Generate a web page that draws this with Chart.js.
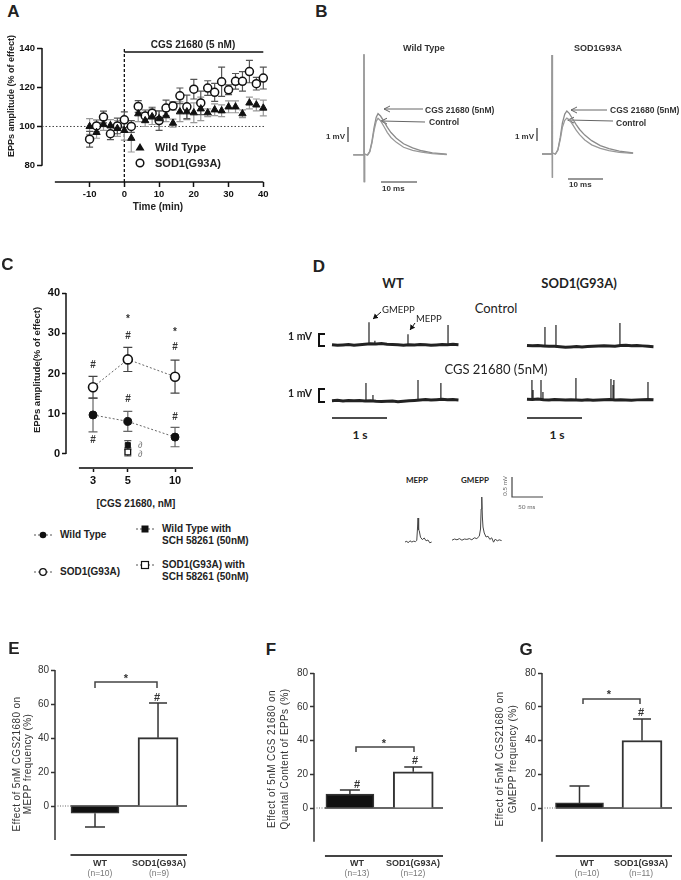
<!DOCTYPE html>
<html>
<head>
<meta charset="utf-8">
<script src="https://cdn.jsdelivr.net/npm/chart.js@4/dist/chart.umd.min.js"></script>
<style>
body { margin: 0; background: #fff; }
#fig { position: relative; width: 681px; height: 880px; overflow: hidden; background: #fff; }
#fig canvas { position: absolute; }
#fig svg { position: absolute; left: 0; top: 0; }
.t { position: absolute; white-space: nowrap; line-height: 1; font-family: "Liberation Sans", Arial, sans-serif; font-weight: bold; color: #222; }
</style>
</head>
<body>
<div id="fig">
<svg width="681" height="880">
  <defs>
    <marker id="ahGray" markerWidth="8" markerHeight="8" refX="6" refY="3.5" orient="auto" markerUnits="userSpaceOnUse">
      <path d="M0,0.5 L6,3.5 L0,6.5" fill="none" stroke="#666" stroke-width="1"/>
    </marker>
    <marker id="ahBlack" markerWidth="8" markerHeight="8" refX="5" refY="3" orient="auto" markerUnits="userSpaceOnUse">
      <path d="M0,0 L5,3 L0,6 Z" fill="#111"/>
    </marker>
  </defs>
  <!-- A legend -->
  <polygon points="140,143 144.5,150.5 135.5,150.5" fill="#111"/>
  <circle cx="140" cy="163" r="3.8" fill="#fff" stroke="#111" stroke-width="1.5"/>
  <!-- B arrows and scale bars -->
  <g stroke="#666" stroke-width="1">
    <line x1="423" y1="109" x2="384" y2="109" marker-end="url(#ahGray)"/>
    <line x1="425" y1="122" x2="381" y2="121" marker-end="url(#ahGray)"/>
    <line x1="607" y1="110" x2="571" y2="110" marker-end="url(#ahGray)"/>
    <line x1="613" y1="121" x2="568" y2="120" marker-end="url(#ahGray)"/>
  </g>
  <g stroke="#333" stroke-width="1.2">
    <line x1="348" y1="127" x2="348" y2="142"/>
    <line x1="381" y1="182" x2="417" y2="182"/>
    <line x1="537" y1="128" x2="537" y2="141"/>
    <line x1="568" y1="179" x2="603" y2="179"/>
  </g>
  <!-- C legend -->
  <g stroke="#555" stroke-width="1" stroke-dasharray="2,2">
    <line x1="34" y1="535" x2="52" y2="535"/>
    <line x1="34" y1="572" x2="52" y2="572"/>
    <line x1="136" y1="529" x2="154" y2="529"/>
    <line x1="136" y1="565" x2="154" y2="565"/>
  </g>
  <circle cx="43" cy="535" r="3.3" fill="#111"/>
  <circle cx="43" cy="572" r="3.3" fill="#fff" stroke="#111" stroke-width="1.3"/>
  <rect x="141.5" y="525.5" width="7" height="7" fill="#111"/>
  <rect x="141.5" y="561.5" width="7" height="7" fill="#fff" stroke="#111" stroke-width="1.2"/>
  <!-- D brackets, arrows, bars -->
  <g fill="none" stroke="#111" stroke-width="2">
    <path d="M325,334 H319 V346 H325"/>
    <path d="M325,389 H319 V402 H325"/>
  </g>
  <g stroke="#111" stroke-width="1">
    <line x1="381" y1="312" x2="373" y2="319" marker-end="url(#ahBlack)"/>
    <line x1="415" y1="323" x2="410" y2="330" marker-end="url(#ahBlack)"/>
  </g>
  <g stroke="#111" stroke-width="1.5">
    <line x1="332" y1="418" x2="387" y2="418"/>
    <line x1="527" y1="418" x2="582" y2="418"/>
  </g>
  <path d="M512,477 V497 H543" fill="none" stroke="#444" stroke-width="1.2"/>
  <!-- E/F/G significance brackets -->
  <g fill="none" stroke="#444" stroke-width="1.5">
    <path d="M95,688 V682 H157 V688"/>
    <path d="M356,752 V747 H414 V752"/>
    <path d="M583,704 V699 H640 V704"/>
  </g>
</svg>
</div>
<script>
// ---- Panel A: EPP amplitude over time
const timeMin = [-10, -8, -6, -4, -2, 0, 2, 4, 6, 8, 10, 12, 14, 16, 18, 20, 22, 24, 26, 28, 30, 32, 34, 36, 38, 40];
const wtAmp = [100, 97, 101, 100.5, 99, 98, 94, 106.5, 103, 105, 104, 105.5, 101.7, 107.5, 107.5, 107, 109, 107, 108.5, 108, 110, 110, 106.5, 112, 111, 109.4];
const wtAmpErr = [4, 3, 3, 3, 4, 5, 7, 4, 3, 4, 4, 3, 2, 5, 4, 5, 6, 2, 3, 3, 3, 3, 2, 3, 3, 4];
const sodAmp = [93.5, 100.3, 104.8, 96.3, 100.3, 103.4, 100, 110.2, 105.4, 106.8, 103, 109.4, 110.5, 115.6, 110, 119, 112, 119.6, 117.4, 122.8, 118.7, 123, 123, 128, 121.8, 124.7];
const sodAmpErr = [4, 3, 3, 3, 4, 4, 3, 3, 3, 3, 5, 4, 2, 4, 6, 5, 6, 3.7, 4.6, 7.5, 2.5, 4, 5, 5.7, 3.2, 5.6];
const timeTicks = [-10, 0, 10, 20, 30, 40];
const ampTicks = [80, 100, 120, 140];
const seriesNames = ['Wild Type', 'SOD1(G93A)'];

// ---- Panel B: evoked EPP traces (ms, mV)
const wtTraceMs = [-3, -0.01, 0, 0.08, 0.16, 0.3, 1, 1.6, 2.2, 2.8, 3.4, 3.9, 4.6, 5.5, 6.5, 7.5, 9, 11, 13.5, 16, 19, 23];
const wtTraceCgs = [0, 0, 7.2, -1.9, 0.1, 0.05, 0, 0.25, 0.95, 1.95, 2.7, 2.95, 2.78, 2.42, 1.97, 1.6, 1.2, 0.8, 0.5, 0.3, 0.15, 0.05];
const wtTraceCtrl = [0, 0, 7.2, -1.9, 0.1, 0.05, 0, 0.22, 0.85, 1.75, 2.4, 2.62, 2.45, 2.05, 1.6, 1.25, 0.9, 0.55, 0.33, 0.2, 0.1, 0.03];
const sodTraceMs = [-2.9, -0.01, 0, 0.08, 0.16, 0.3, 1, 1.7, 2.4, 3.0, 3.7, 4.3, 5.0, 6.0, 7.0, 8.0, 9.5, 11.5, 14, 16.5, 19.5, 23.5];
const sodTraceCgs = [0, 0, 7.07, -1.7, 0.1, 0.05, 0, 0.3, 1.2, 2.2, 2.85, 3.07, 2.9, 2.5, 2.1, 1.75, 1.35, 0.95, 0.6, 0.38, 0.2, 0.07];
const sodTraceCtrl = [0, 0, 7.07, -1.7, 0.1, 0.05, 0, 0.28, 1.05, 1.9, 2.4, 2.57, 2.45, 2.1, 1.7, 1.38, 1.0, 0.65, 0.4, 0.24, 0.12, 0.04];

// ---- Panel C: dose response
const doseNM = [3, 5, 10];
const doseTicks = [3, 5, 10];
const wtDose = [9.7, 8.1, 4.2];
const wtDoseErr = [4.2, 2.5, 2.4];
const sodDose = [16.6, 23.5, 19.2];
const sodDoseErr = [2.7, 3.0, 4.1];
const schDose = [5];
const wtSch = [2.2];
const wtSchErr = [1.1];
const sodSch = [0.5];
const sodSchErr = [1.0];
const effTicks = [0, 10, 20, 30, 40];

// ---- Panel D: spontaneous activity traces (s, mV)
const dTime = [0, 0.1, 0.2, 0.3, 0.4, 0.5, 0.6, 0.7, 0.8, 0.9, 1.0, 1.1, 1.2, 1.3, 1.4, 1.5, 1.6, 1.7, 1.8, 1.9, 2.0, 2.1, 2.2, 2.3];
const wtCtrlBase = [0.02, -0.03, 0.01, 0.04, -0.02, 0.03, 0.06, 0.1, 0.08, 0.12, 0.07, 0.05, 0.02, -0.01, 0.03, 0, 0.04, 0.02, -0.02, 0.01, 0.05, 0.03, 0.06, 0.02];
const wtCtrlSpikeT = [0.673, 0.78, 1.382, 2.11];
const wtCtrlSpikeV = [1.9, 0.35, 0.9, 1.67];
const sodCtrlBase = [0.05, 0.02, 0.04, 0, -0.03, -0.02, -0.06, -0.1, -0.08, -0.05, -0.09, -0.04, -0.02, 0.01, 0.03, 0, -0.02, 0.04, 0.06, 0.02, 0.05, 0.01, -0.03, -0.06];
const sodCtrlSpikeT = [0.327, 0.527, 1.69];
const sodCtrlSpikeV = [1.58, 1.75, 1.92];
const wtCgsBase = [0.03, 0.06, 0.01, 0.04, 0.02, 0.05, 0, 0.03, -0.02, -0.05, -0.03, -0.01, -0.06, -0.02, 0.02, 0.05, 0.09, 0.12, 0.08, 0.11, 0.15, 0.1, 0.13, 0.09];
const wtCgsSpikeT = [0.618, 0.745, 1.564, 1.98];
const wtCgsSpikeV = [1.5, 0.5, 1.75, 1.5];
const sodCgsBase = [0.06, 0.04, 0.08, 0.03, 0.01, 0.05, 0.02, -0.01, 0.03, 0, -0.02, 0.01, -0.03, 0, 0.02, 0.04, 0.01, 0.03, 0, -0.02, 0.01, 0.03, 0.05, 0.02];
const sodCgsSpikeT = [0.09, 0.11, 0.255, 0.29, 0.89, 1.527, 1.564, 1.58, 2.2];
const sodCgsSpikeV = [1.67, 0.83, 1.67, 0.67, 1.83, 1.75, 1.25, 1.67, 1.5];
const meppMs = [0, 3, 5, 8, 11, 14, 17, 19, 20, 21, 22, 23, 25, 28, 31, 34, 37, 40, 43];
const meppMv = [0, 0.02, -0.02, 0.03, 0, 0.02, 0.01, 0.04, 0.3, 0.6, 0.3, 0.28, 0.12, 0.06, 0.1, 0.03, 0.05, -0.02, 0];
const gmeppMs = [0, 4, 8, 12, 16, 20, 24, 28, 32, 36, 40, 44, 46, 47, 48, 49, 50, 52, 55, 58, 61, 64, 67, 70, 73, 76, 80];
const gmeppMv = [0.02, 0.05, 0.03, 0.06, 0.02, 0.05, 0.04, 0.06, 0.03, 0.08, 0.06, 0.12, 0.3, 0.8, 1.1, 0.6, 0.35, 0.2, 0.1, 0.12, 0.04, 0.08, -0.03, 0.05, 0, 0.03, 0.01];

// ---- Panels E, F, G: bar summaries
const groups = ['WT', 'SOD1(G93A)'];
const barTicks = [0, 20, 40, 60, 80];
const meppFreq = [-4.2, 40.2];
const meppFreqErr = [8.2, 20.4];
const meppN = ['(n=10)', '(n=9)'];
const quantal = [8.3, 21.5];
const quantalErr = [2.4, 2.8];
const quantalN = ['(n=13)', '(n=12)'];
const gmeppFreq = [3.0, 40.0];
const gmeppFreqErr = [10, 12.7];
const gmeppN = ['(n=10)', '(n=11)'];

const fig = document.getElementById('fig');
const FONT = 'Liberation Sans';

function txt(s, x, y, o = {}) {
    const d = document.createElement('div');
    d.className = 't';
    d.textContent = s;
    const a = o.a || 'c';
    const tx = a === 'l' ? '0' : a === 'r' ? '-100%' : '-50%';
    d.style.left = x + 'px';
    d.style.top = y + 'px';
    d.style.transform = `translate(${tx},-50%)` + (o.rot ? ` rotate(${o.rot}deg)` : '');
    d.style.fontSize = (o.size || 10) + 'px';
    if (o.w) d.style.fontWeight = o.w;
    if (o.f) d.style.fontFamily = o.f;
    if (o.c) d.style.color = o.c;
    if (o.i) d.style.fontStyle = 'italic';
    if (o.ls) d.style.letterSpacing = o.ls + 'px';
    fig.appendChild(d);
}

function drawErrBars(chart, phase) {
    const ctx = chart.ctx;
    const ys = chart.scales.y;
    chart.data.datasets.forEach((ds, i) => {
        if (!ds.err || (ds.errPhase || 'before') !== phase) return;
        const meta = chart.getDatasetMeta(i);
        ctx.save();
        ctx.strokeStyle = ds.errColor || '#333';
        ctx.lineWidth = ds.errW || 1.2;
        meta.data.forEach((el, j) => {
            const v = ds.data[j].y, e = ds.err[j];
            const ends = ds.errMode === 'away' ? [v, v + (v < 0 ? -e : e)] : [v - e, v + e];
            const p0 = ys.getPixelForValue(ends[0]), p1 = ys.getPixelForValue(ends[1]);
            const c = ds.cap || 4;
            ctx.beginPath();
            ctx.moveTo(el.x, p0); ctx.lineTo(el.x, p1);
            ctx.moveTo(el.x - c, p1); ctx.lineTo(el.x + c, p1);
            if (ds.errMode !== 'away') { ctx.moveTo(el.x - c, p0); ctx.lineTo(el.x + c, p0); }
            ctx.stroke();
        });
        ctx.restore();
    });
}

// axis lines and reference lines, placed in data units through the chart's scales
function gp(lines) {
    return {
        id: 'gp',
        beforeDatasetsDraw(chart) {
            const { ctx, chartArea: a, scales: { x, y } } = chart;
            ctx.save();
            lines.forEach(l => {
                let x0, x1, y0, y1;
                if (l.ax === 'y') { x0 = x1 = a.left; y0 = y.getPixelForValue(l.v[0]); y1 = y.getPixelForValue(l.v[1]); }
                else if (l.ax === 'x') { y0 = y1 = a.bottom; x0 = x.getPixelForValue(l.v[0]); x1 = x.getPixelForValue(l.v[1]); }
                else { x0 = x.getPixelForValue(l.x[0]); x1 = x.getPixelForValue(l.x[1]); y0 = y.getPixelForValue(l.y[0]); y1 = y.getPixelForValue(l.y[1]); }
                ctx.beginPath();
                ctx.setLineDash(l.dash || []);
                ctx.lineWidth = l.w || 1.5;
                ctx.strokeStyle = l.c || '#111';
                ctx.moveTo(x0, y0); ctx.lineTo(x1, y1);
                ctx.stroke();
            });
            ctx.restore();
            drawErrBars(chart, 'before');
        },
        afterDatasetsDraw(chart) { drawErrBars(chart, 'after'); }
    };
}

function mk(box, cfg, lines = []) {
    const pl = box.pl || 0, pt = box.pt || 0, pr = box.pr || 0, pb = box.pb || 0;
    const c = document.createElement('canvas');
    const w = box.r - box.l + pl + pr, h = box.b - box.t + pt + pb;
    c.width = w; c.height = h;
    c.style.left = (box.l - pl) + 'px';
    c.style.top = (box.t - pt) + 'px';
    c.style.width = w + 'px';
    c.style.height = h + 'px';
    fig.appendChild(c);
    const o = cfg.options;
    o.responsive = false;
    o.animation = false;
    o.events = [];
    o.layout = { padding: {
        left: o.scales.y.display === false ? pl : 0,
        top: pt,
        right: pr,
        bottom: o.scales.x.display === false ? pb : 0
    } };
    o.plugins = { legend: { display: false }, tooltip: { enabled: false } };
    cfg.plugins = [gp(lines)];
    return new Chart(c, cfg);
}

function yAxis(min, max, ticks, width, font, color, tl = 5) {
    return {
        type: 'linear', min, max,
        afterBuildTicks: s => { s.ticks = ticks.map(v => ({ value: v })); },
        afterFit: s => { s.width = width; s.paddingTop = 0; s.paddingBottom = 0; },
        grid: { drawOnChartArea: false, tickLength: tl, tickWidth: 1.5, tickColor: color },
        border: { display: false },
        ticks: { padding: 2, color, font }
    };
}

function xAxis(type, min, max, ticks, height, font, color, tl = 5) {
    return {
        type, min, max, offset: false,
        afterBuildTicks: s => { s.ticks = ticks.map(v => ({ value: v })); },
        afterFit: s => { s.height = height; s.paddingLeft = 0; s.paddingRight = 0; },
        grid: { drawOnChartArea: false, tickLength: tl, tickWidth: 1.5, tickColor: color },
        border: { display: false },
        ticks: { padding: 2, color, font, maxRotation: 0, autoSkip: false, callback: v => String(v) }
    };
}

const pts = (xs, ys) => xs.map((x, i) => ({ x, y: ys[i] }));
const spikes = (ts, vs) => ts.flatMap((t, i) => [{ x: t, y: 0 }, { x: t, y: vs[i] }, { x: t, y: null }]);

// ================= Panel A =================
const boldA = { family: FONT, size: 9.5, weight: 'bold' };
mk({ l: 42, t: 48, r: 264, b: 182, pl: 42, pt: 10, pr: 12, pb: 22 }, {
    type: 'scatter',
    data: { datasets: [
        { data: pts(timeMin, wtAmp), pointStyle: 'triangle', pointRadius: 4.2, backgroundColor: '#111', borderColor: '#111', borderWidth: 1,
          err: wtAmpErr, errColor: '#999', cap: 3.5, clip: false },
        { data: pts(timeMin, sodAmp), pointStyle: 'circle', pointRadius: 4, backgroundColor: '#fff', borderColor: '#111', borderWidth: 1.5,
          err: sodAmpErr, errColor: '#555', cap: 3.5, clip: false }
    ] },
    options: { scales: {
        x: xAxis('linear', -23.7, 40.2, timeTicks, 22, boldA, '#111'),
        y: yAxis(71.7, 140, ampTicks, 42, boldA, '#111')
    } }
}, [
    { ax: 'y', v: [80, 140] },
    { ax: 'x', v: [-20, 40] },
    { x: [-23.7, 40.2], y: [100, 100], dash: [1.5, 2], w: 1, c: '#444' },
    { x: [0, 0], y: [71.7, 140], dash: [3, 2], w: 1.3 },
    { x: [0, 40], y: [138, 138], w: 1.5 }
]);
txt('A', 13.5, 11, { size: 17 });
txt('EPPs amplitude (% of effect)', 11, 96, { size: 9, rot: -90 });
txt('Time (min)', 158, 207, { size: 10 });
txt('CGS 21680 (5 nM)', 193, 45, { size: 10 });
txt(seriesNames[0], 155, 147, { a: 'l', size: 11 });
txt(seriesNames[1], 155, 163, { a: 'l', size: 11 });

// ================= Panel B =================
function traceChart(box, xr, yr, datasets) {
    return mk(box, {
        type: 'line',
        data: { datasets },
        options: { scales: {
            x: { type: 'linear', display: false, min: xr[0], max: xr[1] },
            y: { type: 'linear', display: false, min: yr[0], max: yr[1] }
        } }
    });
}
const lineDs = (data, color, width) => ({ data, borderColor: color, borderWidth: width, pointRadius: 0, fill: false, tension: 0, spanGaps: false, clip: false });

traceChart({ l: 348, t: 48, r: 460, b: 188 }, [-4.44, 26.67], [-2.36, 7.64], [
    lineDs(pts(wtTraceMs, wtTraceCtrl), '#999', 1.3),
    lineDs(pts(wtTraceMs, wtTraceCgs), '#8a8a8a', 1.3)
]);
traceChart({ l: 536, t: 48, r: 640, b: 188 }, [-4.64, 25.5], [-2.43, 7.57], [
    lineDs(pts(sodTraceMs, sodTraceCtrl), '#999', 1.3),
    lineDs(pts(sodTraceMs, sodTraceCgs), '#8a8a8a', 1.3)
]);
txt('B', 321.5, 11, { size: 17 });
txt(seriesNames[0], 424, 48, { size: 9, c: '#333' });
txt('SOD1G93A', 598, 48, { size: 9, c: '#333' });
txt('CGS 21680 (5nM)', 425, 110, { a: 'l', size: 8.5, c: '#333' });
txt('Control', 429, 122, { a: 'l', size: 8.5, c: '#333' });
txt('CGS 21680 (5nM)', 610, 110, { a: 'l', size: 8.5, c: '#333' });
txt('Control', 616, 123, { a: 'l', size: 8.5, c: '#333' });
txt('1 mV', 345, 137, { a: 'r', size: 8, c: '#333' });
txt('1 mV', 534, 137, { a: 'r', size: 8, c: '#333' });
txt('10 ms', 382, 189, { a: 'l', size: 8, c: '#333' });
txt('10 ms', 569, 185, { a: 'l', size: 8, c: '#333' });

// ================= Panel C =================
const boldC = { family: FONT, size: 11, weight: 'bold' };
mk({ l: 66, t: 293, r: 193, b: 468, pl: 66, pt: 12, pr: 10, pb: 22 }, {
    type: 'scatter',
    data: { datasets: [
        { data: pts(schDose, wtSch), pointStyle: 'rect', pointRadius: 3.6, backgroundColor: '#111', borderColor: '#111', borderWidth: 1,
          err: wtSchErr, errColor: '#555', cap: 3.5, clip: false },
        { data: pts(schDose, sodSch), pointStyle: 'rect', pointRadius: 4, backgroundColor: '#fff', borderColor: '#111', borderWidth: 1.3,
          err: sodSchErr, errColor: '#555', cap: 3.5, clip: false },
        { data: pts(doseNM, wtDose), showLine: true, borderDash: [2, 2], borderColor: '#666', borderWidth: 1,
          pointStyle: 'circle', pointRadius: 4, pointBackgroundColor: '#111', pointBorderColor: '#111',
          err: wtDoseErr, errColor: '#666', cap: 4.5, clip: false },
        { data: pts(doseNM, sodDose), showLine: true, borderDash: [2, 2], borderColor: '#666', borderWidth: 1,
          pointStyle: 'circle', pointRadius: 4.5, pointBackgroundColor: '#fff', pointBorderColor: '#111', pointBorderWidth: 1.6,
          err: sodDoseErr, errColor: '#444', cap: 4.5, clip: false }
    ] },
    options: { scales: {
        x: xAxis('logarithmic', 2.018, 13.02, doseTicks, 22, boldC, '#111', 4),
        y: yAxis(-3.48, 40, effTicks, 66, boldC, '#111', 4)
    } }
}, [
    { ax: 'y', v: [0, 40] },
    { ax: 'x', v: [2.44, 13.02], w: 2, c: '#444' }
]);
txt('C', 7.5, 264, { size: 17 });
txt('EPPs amplitude(% of effect)', 37, 370, { size: 9.5, rot: -90 });
txt('[CGS 21680, nM]', 136, 504, { size: 10 });
[['#', 93, 365], ['#', 93, 440], ['*', 128, 319], ['#', 128, 336], ['#', 128, 399],
 ['*', 175, 332], ['#', 175, 347], ['#', 175, 417]].forEach(([s, x, y]) => txt(s, x, y, { size: 10, c: '#333' }));
txt('∂', 138, 445, { a: 'l', size: 9, w: 'normal', i: true, c: '#777' });
txt('∂', 138, 454, { a: 'l', size: 9, w: 'normal', i: true, c: '#777' });
txt(seriesNames[0], 60, 535, { a: 'l', size: 10 });
txt(seriesNames[1], 60, 572, { a: 'l', size: 10 });
txt('Wild Type with', 162, 529, { a: 'l', size: 10 });
txt('SCH 58261 (50nM)', 162, 541, { a: 'l', size: 10 });
txt('SOD1(G93A) with', 162, 565, { a: 'l', size: 10 });
txt('SCH 58261 (50nM)', 162, 577, { a: 'l', size: 10 });

// ================= Panel D =================
const dTrace = (base, st, sv) => [lineDs(pts(dTime, base), '#222', 3), lineDs(spikes(st, sv), '#333', 1.3)];
traceChart({ l: 330, t: 316, r: 462, b: 352 }, [-0.036, 2.364], [-0.583, 2.417], dTrace(wtCtrlBase, wtCtrlSpikeT, wtCtrlSpikeV));
traceChart({ l: 525, t: 316, r: 657, b: 352 }, [-0.036, 2.364], [-0.5, 2.5], dTrace(sodCtrlBase, sodCtrlSpikeT, sodCtrlSpikeV));
traceChart({ l: 330, t: 372, r: 462, b: 408 }, [-0.036, 2.364], [-0.583, 2.417], dTrace(wtCgsBase, wtCgsSpikeT, wtCgsSpikeV));
traceChart({ l: 525, t: 372, r: 657, b: 408 }, [-0.036, 2.364], [-0.667, 2.333], dTrace(sodCgsBase, sodCgsSpikeT, sodCgsSpikeV));
traceChart({ l: 400, t: 505, r: 440, b: 550 }, [-8.06, 56.45], [-0.2, 0.925], [lineDs(pts(meppMs, meppMv), '#444', 1)]);
traceChart({ l: 448, t: 490, r: 508, b: 550 }, [-6.45, 90.3], [-0.225, 1.275], [lineDs(pts(gmeppMs, gmeppMv), '#444', 1)]);
const LATO = 'Lato';
txt('D', 319, 266, { size: 17 });
txt('WT', 393, 283, { size: 13, f: LATO });
txt('SOD1(G93A)', 579, 283, { size: 13, f: LATO });
txt('Control', 496, 308, { size: 13, w: 'normal', f: LATO });
txt('CGS 21680 (5nM)', 496, 369, { size: 13, w: 'normal', f: LATO });
txt('GMEPP', 382, 310, { a: 'l', size: 9.5, w: 'normal', f: LATO });
txt('MEPP', 416, 319, { a: 'l', size: 9.5, w: 'normal', f: LATO });
txt('1 mV', 312, 336, { a: 'r', size: 10.5, f: LATO });
txt('1 mV', 312, 393, { a: 'r', size: 10.5, f: LATO });
txt('1 s', 360, 435, { size: 12, f: LATO });
txt('1 s', 557, 435, { size: 12, f: LATO });
txt('MEPP', 417, 480, { size: 8, f: LATO });
txt('GMEPP', 475, 480, { size: 8, f: LATO });
txt('0.5 mV', 505, 486, { size: 6.5, w: 'normal', rot: -90, c: '#666', f: LATO });
txt('50 ms', 518, 507, { a: 'l', size: 6.5, w: 'normal', c: '#666', f: LATO });

// ================= Panels E, F, G =================
const tickEFG = { family: FONT, size: 10 };
function barPanel(area, xr, xStart, yMin, vals, errs) {
    mk({ l: area[0], t: area[1], r: area[2], b: area[3], pl: area[0], pt: 10, pr: 4, pb: 4 }, {
        type: 'bar',
        data: { datasets: [
            { data: [{ x: 1, y: vals[0] }], backgroundColor: '#111', borderColor: '#333', borderWidth: 1.5, barThickness: 48, grouped: false,
              err: [errs[0]], errMode: 'away', errPhase: 'after', errColor: '#333', errW: 1.5, cap: 10 },
            { data: [{ x: 2, y: vals[1] }], backgroundColor: '#fff', borderColor: '#333', borderWidth: 2, barThickness: 40, grouped: false,
              err: [errs[1]], errMode: 'away', errPhase: 'after', errColor: '#333', errW: 1.5, cap: 9 }
        ] },
        options: { scales: {
            x: { type: 'linear', display: false, min: xr[0], max: xr[1], offset: false },
            y: yAxis(yMin, 80, barTicks, area[0], tickEFG, '#333', 4)
        } }
    }, [
        { ax: 'y', v: [-20, 80], c: '#333' },
        { ax: 'x', v: [xStart, xr[1]], w: 2.2, c: '#444' },
        { x: [xr[0], xStart], y: [0, 0], dash: [1, 1.5], w: 1, c: '#666' },
        { x: [xStart, xr[1]], y: [0, 0], w: 1.5, c: '#333' }
    ]);
}
barPanel([55, 670, 187, 855], [0.365, 2.46], 0.611, -28.82, meppFreq, meppFreqErr);
barPanel([314, 673, 443, 856], [0.433, 2.47], 0.606, -28.44, quantal, quantalErr);
barPanel([542, 673, 672, 856], [0.4, 2.48], 0.62, -28.44, gmeppFreq, gmeppFreqErr);

const titleStyle = { size: 10, w: 'normal', rot: -90, c: '#333', ls: 0.4 };
txt('E', 14, 648, { size: 17 });
txt('Effect of 5nM CGS21680 on', 17, 764, titleStyle);
txt('MEPP frequency (%)', 28, 764, titleStyle);
txt('F', 271, 649, { size: 17 });
txt('Effect of 5nM CGS 21680 on', 272, 759, titleStyle);
txt('Quantal Content of EPPs (%)', 285, 759, titleStyle);
txt('G', 526, 649, { size: 17 });
txt('Effect of 5nM CGS21680 on', 500, 759, titleStyle);
txt('GMEPP frequency (%)', 513, 759, titleStyle);

[[[100, 159], meppN], [[357, 413], quantalN], [[587, 641], gmeppN]].forEach(([xs, ns]) => {
    xs.forEach((x, i) => {
        txt(groups[i], x, 863, { size: 9, c: '#333' });
        txt(ns[i], x, 873, { size: 8.5, w: 'normal', c: '#777' });
    });
});
[['*', 126, 678], ['#', 157, 697], ['*', 384, 743], ['#', 357, 784], ['#', 415, 760], ['*', 609, 694], ['#', 641, 712]]
    .forEach(([s, x, y]) => txt(s, x, y, { size: 11, c: '#333' }));
</script>
</body>
</html>
